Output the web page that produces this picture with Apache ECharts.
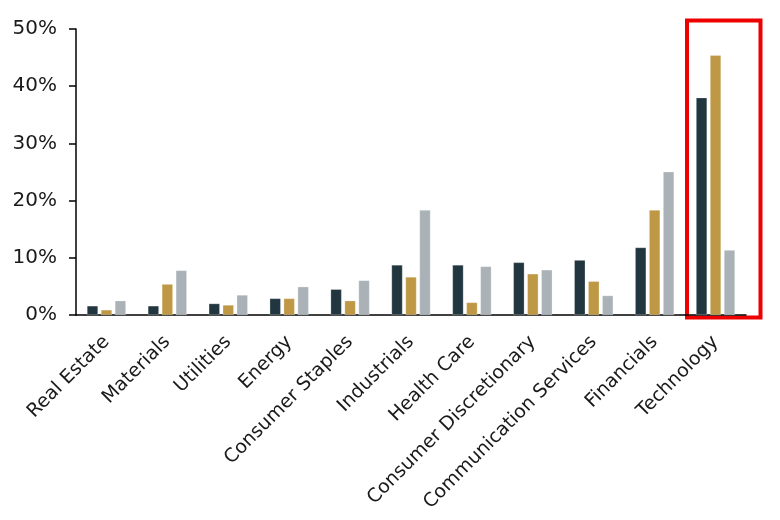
<!DOCTYPE html>
<html>
<head>
<meta charset="utf-8">
<script src="https://cdn.jsdelivr.net/npm/echarts@6/dist/echarts.min.js"></script>
<style>
  html, body { margin: 0; padding: 0; background: #fff; }
  #main { width: 780px; height: 520px; }
</style>
</head>
<body>
<div id="main"></div>
<script>
var sectors = ['Real Estate', 'Materials', 'Utilities', 'Energy', 'Consumer Staples', 'Industrials',
    'Health Care', 'Consumer Discretionary', 'Communication Services', 'Financials', 'Technology'];

var seriesA = [1.6, 1.6, 2.0, 2.9, 4.5, 8.75, 8.75, 9.2, 9.6, 11.8, 38.0];
var seriesB = [0.9, 5.4, 1.75, 2.9, 2.5, 6.65, 2.2, 7.2, 5.9, 18.35, 45.4];
var seriesC = [2.5, 7.8, 3.5, 4.95, 6.05, 18.35, 8.5, 7.9, 3.4, 25.05, 11.35];

var colors = ['#22363f', '#bf9846', '#aab2b7'];

function bar(data, color) {
    return {
        type: 'bar',
        data: data,
        barWidth: 11,
        barGap: '27%',
        itemStyle: { color: color, borderColor: 'rgba(255,255,255,0.5)', borderWidth: 0.5 }
    };
}

var myChart = echarts.init(document.getElementById('main'));

var option = {
    animation: false,
    textStyle: { fontFamily: 'DejaVu Sans' },
    grid: { left: 76, right: 34, top: 29, bottom: 205 },
    xAxis: {
        type: 'category',
        data: sectors,
        axisLine: { lineStyle: { color: '#000', width: 1.5 } },
        axisTick: { show: false },
        axisLabel: { rotate: 45, fontSize: 19, color: '#1a1a1a', margin: 24, interval: 0 }
    },
    yAxis: {
        type: 'value',
        min: 0,
        max: 50,
        interval: 10,
        splitLine: { show: false },
        axisLine: { show: true, lineStyle: { color: '#000', width: 1.5 } },
        axisTick: { show: true, length: 7, lineStyle: { color: '#000', width: 1.5 } },
        axisLabel: { formatter: '{value}%', fontSize: 20, color: '#1a1a1a', margin: 19 }
    },
    series: [bar(seriesA, colors[0]), bar(seriesB, colors[1]), bar(seriesC, colors[2])],
    graphic: [{
        type: 'rect',
        shape: { x: 687, y: 20.5, width: 73.5, height: 297 },
        style: { fill: 'none', stroke: '#ee0000', lineWidth: 4 }
    }]
};

myChart.setOption(option);
</script>
</body>
</html>
